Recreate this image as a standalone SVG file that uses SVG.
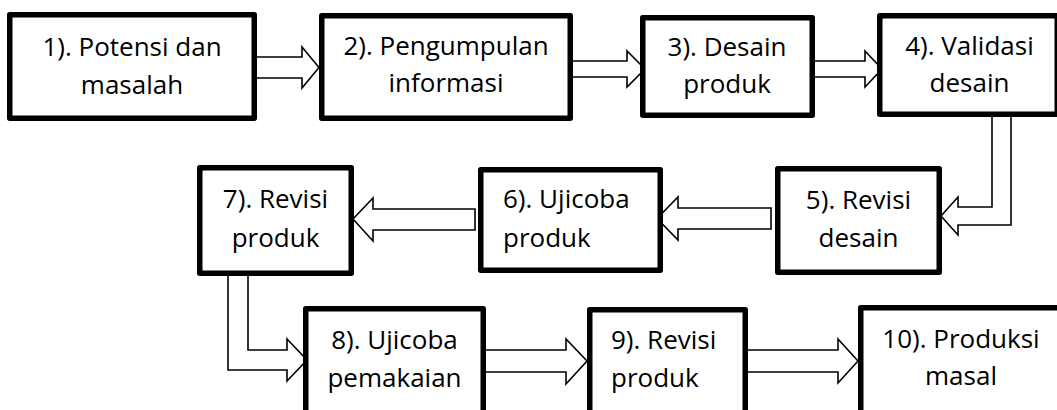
<svg xmlns="http://www.w3.org/2000/svg" width="1057" height="410" viewBox="0 0 1057 410">
<style>
.box{fill:#fff;stroke:#000;stroke-width:5.5;stroke-linejoin:round}
.arr{fill:#fff;stroke:#000;stroke-width:1.6;stroke-linejoin:miter}
text{font-family:"Open Sans","Noto Sans",sans-serif;font-size:26px;fill:#000}
.c{text-anchor:middle}
</style>
<rect width="1057" height="410" fill="#fff"/>
<g id="connectors">
<path class="arr" d="M257,57 L302,57 L302,47 L319,67.5 L302,88 L302,78 L257,78"/>
<path class="arr" d="M573,61 L627,61 L627,51 L645,69 L627,87 L627,77 L573,77"/>
<path class="arr" d="M815,61 L865,61 L865,51 L882,69 L865,87 L865,77 L815,77"/>
<path class="arr" d="M992,117 L992,207 L958,207 L958,197 L941,216 L958,235 L958,225 L1011,225 L1011,117"/>
<path class="arr" d="M771,208 L678,208 L678,197 L657,218.5 L678,240 L678,229 L771,229 Z"/>
<path class="arr" d="M475,209 L373,209 L373,198 L353,219 L373,241 L373,230 L475,230 Z"/>
<path class="arr" d="M228,276 L228,370 L287,370 L287,381 L307,360 L287,339 L287,350 L248,350 L248,276"/>
<path class="arr" d="M486,350 L566,350 L566,339 L587,361 L566,384 L566,372 L486,372"/>
<path class="arr" d="M748,350 L838,350 L838,339 L858,361 L838,383 L838,372 L748,372"/>
</g>
<g id="n1"><rect class="box" x="9.75" y="14.75" width="244.5" height="103.5"/><text class="c" x="132" y="56">1). Potensi dan</text><text class="c" x="132" y="94">masalah</text></g>
<g id="n2"><rect class="box" x="321.75" y="15.75" width="248.5" height="102.5"/><text class="c" x="446" y="55">2). Pengumpulan</text><text class="c" x="446" y="92">informasi</text></g>
<g id="n3"><rect class="box" x="642.75" y="17.75" width="169.5" height="97.5"/><text class="c" x="727" y="56">3). Desain</text><text class="c" x="727" y="93">produk</text></g>
<g id="n4"><rect class="box" x="879.75" y="15.75" width="177.5" height="98.5"/><text class="c" x="969.5" y="55">4). Validasi</text><text class="c" x="969.5" y="92">desain</text></g>
<g id="n5"><rect class="box" x="777.75" y="168.75" width="161.5" height="103.5"/><text class="c" x="858.5" y="209">5). Revisi</text><text class="c" x="858.5" y="247">desain</text></g>
<g id="n6"><rect class="box" x="480.75" y="169.75" width="179.5" height="100.5"/><text x="503" y="208">6). Ujicoba</text><text x="503" y="247">produk</text></g>
<g id="n7"><rect class="box" x="199.75" y="167.75" width="151.5" height="105.5"/><text class="c" x="275.5" y="208">7). Revisi</text><text class="c" x="275.5" y="247">produk</text></g>
<g id="n8"><rect class="box" x="305.75" y="308.75" width="177.5" height="120"/><text class="c" x="394.5" y="349">8). Ujicoba</text><text class="c" x="394.5" y="387">pemakaian</text></g>
<g id="n9"><rect class="box" x="589.75" y="309.75" width="155.5" height="120"/><text x="611" y="349">9). Revisi</text><text x="611" y="387">produk</text></g>
<g id="n10"><rect class="box" x="860.75" y="307.75" width="200.5" height="120"/><text class="c" x="961" y="348">10). Produksi</text><text class="c" x="961" y="385">masal</text></g>
</svg>
